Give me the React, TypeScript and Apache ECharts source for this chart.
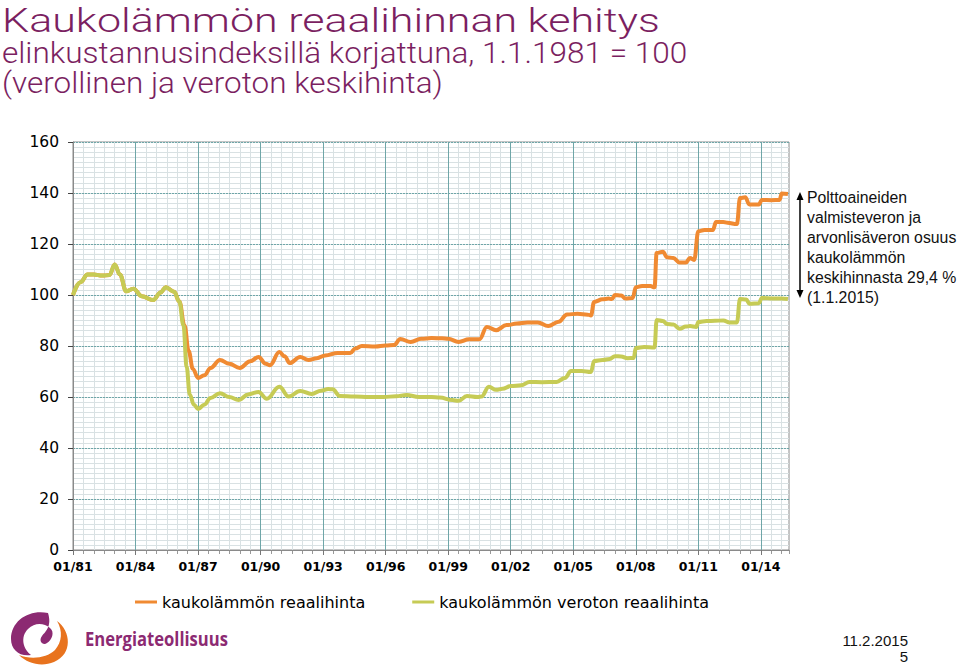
import React, { useEffect, useRef } from "react";
import * as echarts from "echarts";

const titleLines = [
  "Kaukolämmön reaalihinnan kehitys",
  "elinkustannusindeksillä korjattuna, 1.1.1981 = 100",
  "(verollinen ja veroton keskihinta)",
];
const seriesNames = ["kaukolämmön reaalihinta", "kaukolämmön veroton reaalihinta"];
const noteLines = [
  "Polttoaineiden",
  "valmisteveron ja",
  "arvonlisäveron osuus",
  "kaukolämmön",
  "keskihinnasta 29,4 %",
  "(1.1.2015)",
];
const yTicks = [0, 20, 40, 60, 80, 100, 120, 140, 160];
const xTickYears = [1981, 1984, 1987, 1990, 1993, 1996, 1999, 2002, 2005, 2008, 2011, 2014];

const realYears = [
  1981.0, 1981.35, 1981.7, 1982.0, 1982.4, 1982.75, 1983.0, 1983.25, 1983.55, 1983.9,
  1984.3, 1984.85, 1985.2, 1985.45, 1985.85, 1986.1, 1986.35, 1986.55, 1986.75, 1987.0,
  1987.3, 1987.6, 1988.05, 1988.5, 1989.0, 1989.5, 1989.9, 1990.25, 1990.45, 1990.9,
  1991.15, 1991.4, 1991.9, 1992.3, 1992.7, 1993.1, 1993.7, 1994.3, 1994.55, 1994.85,
  1995.5, 1996.0, 1996.4, 1996.7, 1997.2, 1997.7, 1998.2, 1998.7, 1999.0, 1999.5,
  2000.0, 2000.5, 2000.85, 2001.3, 2001.8, 2002.3, 2002.8, 2003.3, 2003.8, 2004.3,
  2004.7, 2005.2, 2005.7, 2005.85, 2006.0, 2006.4, 2006.7, 2006.85, 2007.0, 2007.3,
  2007.5, 2007.85, 2008.0, 2008.3, 2008.7, 2008.9, 2009.0, 2009.3, 2009.5, 2009.8,
  2010.1, 2010.4, 2010.6, 2010.8, 2011.0, 2011.3, 2011.7, 2011.85, 2012.2, 2012.4,
  2012.85, 2013.0, 2013.25, 2013.45, 2013.9, 2014.05, 2014.5, 2014.9, 2015.0, 2015.3,
];
const realValues = [
  100, 105, 108, 108, 107.6, 107.8, 112, 108, 101.5, 102.5,
  99.5, 98, 101, 103, 101.3, 97.5, 88, 78, 71, 67.5,
  68.5, 71.4, 74.5, 73, 71.4, 74, 75.7, 73, 72.5, 77.6,
  76, 73.3, 75.7, 74.5, 75.2, 76.3, 77.3, 77.3, 79, 80,
  79.8, 80.2, 80.4, 82.7, 81.6, 82.8, 83.1, 83, 82.8, 81.6,
  82.6, 82.6, 87.5, 86.2, 88.2, 88.8, 89.2, 89.2, 87.8, 89.5,
  92.4, 92.6, 92.3, 92.0, 97.3, 98.3, 98.6, 98.4, 100, 99.8,
  98.6, 98.8, 103, 103.5, 103.5, 103, 116.5, 117, 114.8, 114.5,
  112.7, 112.7, 114.5, 113.7, 125, 125.5, 125.5, 128.6, 128.6, 128.3,
  127.8, 138, 138.3, 135.5, 135.5, 137.3, 137.2, 137.3, 139.8, 139.6,
];

const netYears = [
  1981.0, 1981.35, 1981.7, 1982.0, 1982.4, 1982.75, 1983.0, 1983.25, 1983.55, 1983.9,
  1984.3, 1984.85, 1985.2, 1985.45, 1985.85, 1986.1, 1986.3, 1986.45, 1986.6, 1986.8,
  1987.0, 1987.3, 1987.6, 1988.05, 1988.5, 1988.95, 1989.4, 1989.9, 1990.3, 1990.9,
  1991.35, 1991.9, 1992.45, 1992.9, 1993.25, 1993.45, 1993.8, 1994.5, 1995.2, 1995.9,
  1996.5, 1997.0, 1997.6, 1998.2, 1998.6, 1999.2, 1999.5, 1999.9, 2000.4, 2000.6,
  2000.95, 2001.3, 2001.6, 2002.0, 2002.5, 2002.9, 2003.5, 2004.2, 2004.6, 2004.9,
  2005.4, 2005.85, 2006.0, 2006.4, 2006.75, 2007.0, 2007.3, 2007.6, 2007.9, 2008.0,
  2008.4, 2008.9, 2009.0, 2009.3, 2009.5, 2009.8, 2010.1, 2010.4, 2010.6, 2010.9,
  2011.0, 2011.4, 2011.8, 2012.2, 2012.5, 2012.85, 2013.0, 2013.3, 2013.45, 2013.9,
  2014.05, 2014.6, 2015.0, 2015.3,
];
const netValues = [
  100, 105, 108, 108, 107.6, 107.8, 112, 108, 101.5, 102.5,
  99.5, 98, 101, 103, 101.3, 97.5, 88, 72, 61, 57,
  55.3, 57, 59.6, 61.5, 60, 58.8, 61, 62, 59.3, 64,
  60.2, 62.4, 61.2, 62.5, 63.1, 63, 60.4, 60.2, 60, 60,
  60.3, 60.8, 60, 60, 59.8, 58.8, 58.5, 60.4, 60, 60.2,
  64, 62.8, 63.2, 64.3, 64.6, 65.9, 65.8, 65.9, 67.5, 70.2,
  70.2, 69.8, 74.1, 74.5, 74.9, 76, 75.9, 75.2, 75.3, 79.2,
  79.6, 79.4, 90.2, 89.8, 88.6, 88.4, 86.8, 87.6, 87.8, 87.5,
  89.4, 89.8, 89.9, 90, 89.2, 89.2, 98.4, 98.2, 96.6, 96.8,
  98.8, 98.6, 98.6, 98.4,
];

const ORANGE = "#F08A32";
const OLIVE = "#C6CB55";
const PURPLE = "#7B1F61";
const TEAL = "#6FA6A8";
const MINOR = "#D9E1E3";

const purpleLogo =
  "M48 613 C30 609 11 620 11 639 C11 650 20 657 31 655 C23 649 20 637 28 629 C35 622 44 623 50 628 C55 632 52 640 47 643 C43 646 38 641 42 636 C46 631 52 626 48 613 Z";
const orangeLogo =
  "M57 621 C71 631 73 654 54 662 C42 667 28 664 19 655 C31 660 47 658 55 650 C62 642 63 631 57 621 Z";

function measure(text: string, font: string): number {
  const c = document.createElement("canvas");
  const ctx = c.getContext("2d");
  if (!ctx) return text.length * 10;
  ctx.font = font;
  return ctx.measureText(text).width;
}

export default function App() {
  const ref = useRef<HTMLDivElement>(null);
  useEffect(() => {
    if (!ref.current) return;
    echarts.graphic.registerShape("logoPurple", echarts.graphic.extendPath(purpleLogo, {}));
    echarts.graphic.registerShape("logoOrange", echarts.graphic.extendPath(orangeLogo, {}));
    const chart = echarts.init(ref.current, undefined, { renderer: "svg" });

    const titleSpecs = [
      { size: 34, y: 20, w: 658 },
      { size: 29, y: 53, w: 686 },
      { size: 29, y: 83, w: 441 },
    ];
    const titleGraphics = titleLines.map((t, i) => {
      const s = titleSpecs[i];
      const font = `300 ${s.size}px Roboto`;
      const w = measure(t, font);
      return {
        type: "text",
        x: 2,
        y: s.y,
        scaleX: s.w / w,
        style: {
          text: t,
          font,
          fill: PURPLE,
          textAlign: "left",
          textVerticalAlign: "middle",
        },
      };
    });

    const logoFont = `bold 20px "Open Sans"`;
    const logoW = measure("Energiateollisuus", logoFont);

    const noteGraphics = noteLines.map((t, i) => ({
      type: "text",
      x: 807,
      y: 197 + i * 20,
      style: {
        text: t,
        font: `15.8px "Liberation Sans"`,
        fill: "#111",
        textAlign: "left",
        textVerticalAlign: "middle",
      },
    }));

    const makePairs = (xs: number[], ys: number[]) => xs.map((x, i) => [x, ys[i]]);

    chart.setOption({
      animation: false,
      backgroundColor: "#fff",
      grid: {
        left: 73,
        right: 171,
        top: 142,
        bottom: 118,
        show: true,
        borderColor: "#8a8a8a",
        borderWidth: 1,
        backgroundColor: "#fff",
      },
      legend: {
        data: seriesNames,
        left: 135,
        top: 594,
        icon: "rect",
        itemWidth: 22,
        itemHeight: 3,
        itemGap: 47,
        padding: 0,
        textStyle: { fontFamily: "DejaVu Sans", fontSize: 16, color: "#000" },
      },
      xAxis: [
        {
          type: "value",
          min: 1981,
          max: 2015.35,
          interval: 0.5,
          position: "bottom",
          z: 0,
          axisLine: { show: false },
          axisTick: { show: true, length: 4, lineStyle: { color: "#999" } },
          axisLabel: { show: false },
          splitLine: { show: true, showMaxLine: false, lineStyle: { color: MINOR, width: 1 } },
        },
        {
          type: "value",
          min: 1981,
          max: 2015.35,
          interval: 3,
          position: "bottom",
          z: 1,
          axisLine: { show: true, onZero: false, lineStyle: { color: "#8a8a8a" } },
          axisTick: { show: true, length: 5, lineStyle: { color: "#777" } },
          axisLabel: {
            showMaxLabel: false,
            margin: 10,
            fontFamily: "DejaVu Sans",
            fontWeight: "bold",
            fontSize: 12.5,
            color: "#000",
            formatter: (v: number) =>
              xTickYears.indexOf(Math.round(v)) >= 0 ? "01/" + String(Math.round(v)).slice(2) : "",
          },
          splitLine: { show: true, showMaxLine: false, lineStyle: { color: TEAL, width: 1 } },
        },
      ],
      yAxis: [
        {
          type: "value",
          min: 0,
          max: 160,
          interval: 2,
          position: "left",
          z: 0,
          axisLine: { show: false },
          axisTick: { show: false },
          axisLabel: { show: false },
          splitLine: { show: true, lineStyle: { color: MINOR, width: 1 } },
        },
        {
          type: "value",
          min: 0,
          max: 160,
          interval: 20,
          position: "left",
          z: 1,
          axisLine: { show: true, onZero: false, lineStyle: { color: "#8a8a8a" } },
          axisTick: { show: true, length: 5, lineStyle: { color: "#444" } },
          axisLabel: {
            margin: 14,
            fontFamily: "DejaVu Sans",
            fontSize: 15.5,
            color: "#000",
            formatter: (v: number) => (yTicks.indexOf(v) >= 0 ? String(v) : ""),
          },
          splitLine: {
            show: true,
            lineStyle: { color: TEAL, width: 1, type: [2, 1] },
          },
        },
      ],
      series: [
        {
          name: seriesNames[0],
          type: "line",
          xAxisIndex: 1,
          yAxisIndex: 1,
          data: makePairs(realYears, realValues),
          smooth: 0.4,
          smoothMonotone: "x",
          symbol: "none",
          showSymbol: false,
          lineStyle: { width: 4, color: ORANGE },
          itemStyle: { color: ORANGE },
          z: 3,
        },
        {
          name: seriesNames[1],
          type: "line",
          xAxisIndex: 1,
          yAxisIndex: 1,
          data: makePairs(netYears, netValues),
          smooth: 0.4,
          smoothMonotone: "x",
          symbol: "none",
          showSymbol: false,
          lineStyle: { width: 4, color: OLIVE },
          itemStyle: { color: OLIVE },
          z: 4,
        },
      ],
      graphic: [
        ...titleGraphics,
        ...noteGraphics,
        {
          type: "line",
          shape: { x1: 800, y1: 198, x2: 800, y2: 292 },
          style: { stroke: "#000", lineWidth: 1.5 },
        },
        {
          type: "polygon",
          shape: { points: [[800, 192], [796.5, 200], [803.5, 200]] },
          style: { fill: "#000" },
        },
        {
          type: "polygon",
          shape: { points: [[800, 298], [796.5, 290], [803.5, 290]] },
          style: { fill: "#000" },
        },
        {
          type: "logoPurple",
          x: 0,
          y: 0,
          scaleX: 1,
          scaleY: 1,
          style: { fill: "#8C2A72" },
        },
        {
          type: "logoOrange",
          x: 0,
          y: 0,
          scaleX: 1,
          scaleY: 1,
          style: { fill: "#E8731E" },
        },
        {
          type: "text",
          x: 85,
          y: 638,
          scaleX: 143 / logoW,
          style: {
            text: "Energiateollisuus",
            font: logoFont,
            fill: "#8C2A72",
            textAlign: "left",
            textVerticalAlign: "middle",
          },
        },
        {
          type: "text",
          x: 908,
          y: 640,
          style: {
            text: "11.2.2015",
            font: `15px "Liberation Sans"`,
            fill: "#111",
            textAlign: "right",
            textVerticalAlign: "middle",
          },
        },
        {
          type: "text",
          x: 908,
          y: 656,
          style: {
            text: "5",
            font: `15px "Liberation Sans"`,
            fill: "#111",
            textAlign: "right",
            textVerticalAlign: "middle",
          },
        },
      ],
    });
    return () => chart.dispose();
  }, []);
  return (
    <div
      ref={ref}
      style={{ position: "fixed", left: 0, top: 0, width: 960, height: 668, background: "#fff" }}
    />
  );
}
